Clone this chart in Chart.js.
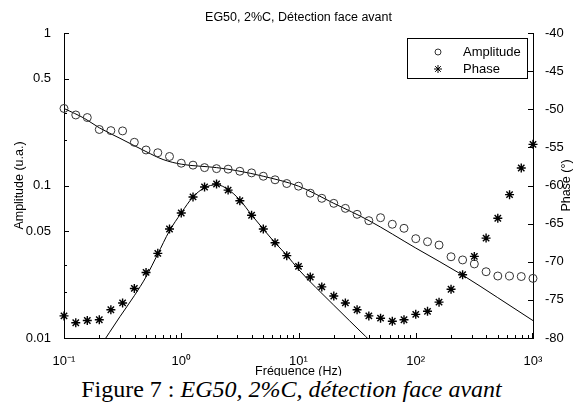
<!DOCTYPE html>
<html>
<head>
<meta charset="utf-8">
<script src="https://cdn.jsdelivr.net/npm/chart.js@4/dist/chart.umd.min.js"></script>
<style>
  body { margin: 0; background: #fff; }
  #wrap { position: relative; width: 583px; height: 412px; }
  #caption {
    position: absolute; left: 0; top: 376px; width: 583px;
    text-align: center; font: 24px "Liberation Serif", "Times New Roman", serif;
    line-height: 26px; background: #fff; color: #000;
  }
</style>
</head>
<body>
<div id="wrap">
  <canvas id="myChart" width="583" height="412"></canvas>
  <div id="caption">Figure 7 : <i>EG50, 2%C, détection face avant</i></div>
</div>
<script>
/*=============== DATA ===============*/

// frequencies of the measured points (Hz)
const freq = [0.1, 0.126, 0.158, 0.2, 0.251, 0.316, 0.398, 0.501, 0.631, 0.794,
  1, 1.26, 1.58, 2, 2.51, 3.16, 3.98, 5.01, 6.31, 7.94,
  10, 12.6, 15.8, 20, 25.1, 31.6, 39.8, 50.1, 63.1, 79.4,
  100, 126, 158, 200, 251, 316, 398, 501, 631, 794, 1000];

// measured amplitude (u.a.)
const amplitude = [0.32, 0.29, 0.279, 0.233, 0.229, 0.228, 0.192, 0.171, 0.164, 0.155,
  0.14, 0.136, 0.131, 0.129, 0.128, 0.124, 0.121, 0.115, 0.109, 0.103,
  0.099, 0.089, 0.0824, 0.0764, 0.0708, 0.0647, 0.0588, 0.0615, 0.0557, 0.0524,
  0.0448, 0.0428, 0.0407, 0.0341, 0.0325, 0.0306, 0.0272, 0.0255, 0.0255, 0.0253, 0.0246];

// measured phase (deg)
const phase = [-77.1, -78.0, -77.7, -77.6, -76.3, -75.4, -73.5, -71.4, -68.9, -65.7,
  -63.6, -61.5, -60.2, -59.8, -60.6, -62.0, -63.9, -65.7, -67.5, -69.2,
  -70.6, -72.0, -73.3, -74.5, -75.4, -76.3, -77.1, -77.4, -77.8, -77.6,
  -76.9, -76.5, -75.3, -73.6, -71.7, -69.3, -66.9, -64.3, -61.2, -57.7, -54.6];

// model curves
const ampFitFreq = [0.1, 0.15, 0.2, 0.3, 0.5, 0.7, 1, 2, 3, 5, 10, 20, 40, 100, 250, 500, 1000];
const ampFit = [0.32, 0.275, 0.239, 0.204, 0.167, 0.148, 0.138, 0.131, 0.125, 0.115,
  0.099, 0.0764, 0.0588, 0.0389, 0.0259, 0.0184, 0.013];

const phaseFitFreq = [0.2, 0.3, 0.4, 0.5, 0.63, 0.79, 1, 1.26, 1.58, 2, 2.5, 3.16, 4, 5, 6.3, 8, 10, 20, 37.4, 50];
const phaseFit = [-81.3, -77.2, -74.4, -72.0, -69.0, -66.0, -63.6, -61.5, -60.3, -59.9,
  -60.5, -61.9, -63.9, -65.7, -67.5, -69.2, -71.0, -75.7, -79.8, -81.7];

// axes
const xTicks = [0.1, 1, 10, 100, 1000];
const xTickLabels = ["10\u207B\u00B9", "10\u2070", "10\u00B9", "10\u00B2", "10\u00B3"];
const yTicks = [0.01, 0.05, 0.1, 0.5, 1];
const yTickLabels = ["0.01", "0.05", "0.1", "0.5", "1"];
const yMinorTicks = [0.02, 0.03, 0.2, 0.3];

const FONT = '"Liberation Sans", Arial, sans-serif';
Chart.defaults.font.family = FONT;
Chart.defaults.color = "#000";

const pts = (xs, ys) => xs.map((x, i) => ({ x: x, y: ys[i] }));

// MATLAB look: inward ticks, boxed legend, titles
const decor = {
  id: "decor",
  afterDraw(chart) {
    const ctx = chart.ctx;
    const a = chart.chartArea;
    const sx = chart.scales.x, sy = chart.scales.y, sp = chart.scales.y1;
    ctx.save();
    ctx.strokeStyle = "#000";
    ctx.lineWidth = 1;
    ctx.beginPath();
    // x ticks (major + log minor)
    for (let d = -1; d <= 2; d++) {
      for (let m = 1; m <= 9; m++) {
        const px = Math.round(sx.getPixelForValue(m * Math.pow(10, d))) + 0.5;
        const len = m === 1 ? 5 : 3;
        ctx.moveTo(px, a.bottom);
        ctx.lineTo(px, a.bottom - len);
      }
    }
    const pEnd = Math.round(sx.getPixelForValue(1000)) - 0.5;
    ctx.moveTo(pEnd, a.bottom);
    ctx.lineTo(pEnd, a.bottom - 5);
    // left ticks
    yTicks.forEach(v => {
      const py = Math.round(sy.getPixelForValue(v)) + 0.5;
      ctx.moveTo(a.left, py);
      ctx.lineTo(a.left + 5, py);
    });
    yMinorTicks.forEach(v => {
      const py = Math.round(sy.getPixelForValue(v)) + 0.5;
      ctx.moveTo(a.left, py);
      ctx.lineTo(a.left + 3, py);
    });
    // right ticks
    for (let v = -80; v <= -40; v += 5) {
      const py = Math.round(sp.getPixelForValue(v)) + 0.5;
      ctx.moveTo(a.right, py);
      ctx.lineTo(a.right - 5, py);
    }
    ctx.stroke();

    // title
    ctx.fillStyle = "#000";
    ctx.font = "12.5px " + FONT;
    ctx.textAlign = "center";
    ctx.textBaseline = "middle";
    ctx.fillText("EG50, 2%C, Détection face avant", (a.left + a.right) / 2, 18);

    // axis titles
    ctx.fillText("Fréquence (Hz)", (a.left + a.right) / 2, 372);
    ctx.save();
    ctx.translate(20, (a.top + a.bottom) / 2);
    ctx.rotate(-Math.PI / 2);
    ctx.fillText("Amplitude (u.a.)", 0, 0);
    ctx.restore();
    ctx.save();
    ctx.translate(567, (a.top + a.bottom) / 2);
    ctx.rotate(-Math.PI / 2);
    ctx.fillText("Phase (°)", 0, 0);
    ctx.restore();

    // legend
    ctx.fillStyle = "#fff";
    ctx.fillRect(407.5, 38.5, 120, 40);
    ctx.strokeRect(407.5, 38.5, 120, 40);
    ctx.beginPath();
    ctx.strokeStyle = "#333";
    ctx.arc(438, 52, 3, 0, Math.PI * 2);
    ctx.stroke();
    ctx.strokeStyle = "#000";
    ctx.beginPath();
    const r = 4;
    for (let k = 0; k < 4; k++) {
      const t = k * Math.PI / 4;
      ctx.moveTo(438 - r * Math.cos(t), 69 - r * Math.sin(t));
      ctx.lineTo(438 + r * Math.cos(t), 69 + r * Math.sin(t));
    }
    ctx.stroke();
    ctx.fillStyle = "#000";
    ctx.font = "13px " + FONT;
    ctx.textAlign = "left";
    ctx.fillText("Amplitude", 463, 52);
    ctx.fillText("Phase", 463, 69);
    ctx.restore();
  }
};

const ctx = document.getElementById("myChart").getContext("2d");
const myChart = new Chart(ctx, {
  type: "line",
  data: {
    datasets: [
      {
        label: "Amplitude",
        data: pts(freq, amplitude),
        yAxisID: "y",
        showLine: false,
        pointStyle: "circle",
        pointRadius: 4,
        borderColor: "#333",
        backgroundColor: "rgba(0,0,0,0)",
        borderWidth: 1,
        clip: false,
      },
      {
        label: "Amplitude fit",
        data: pts(ampFitFreq, ampFit),
        yAxisID: "y",
        pointRadius: 0,
        borderColor: "#000",
        borderWidth: 1,
        cubicInterpolationMode: "monotone",
      },
      {
        label: "Phase",
        data: pts(freq, phase),
        yAxisID: "y1",
        showLine: false,
        pointStyle: "star",
        pointRadius: 4.5,
        borderColor: "#000",
        borderWidth: 1.4,
        clip: false,
      },
      {
        label: "Phase fit",
        data: pts(phaseFitFreq, phaseFit),
        yAxisID: "y1",
        pointRadius: 0,
        borderColor: "#000",
        borderWidth: 1,
        cubicInterpolationMode: "monotone",
      },
    ],
  },
  options: {
    responsive: false,
    animation: false,
    layout: { padding: { top: 33, left: 0, right: 0, bottom: 0 } },
    plugins: {
      legend: { display: false },
      tooltip: { enabled: false },
      title: { display: false },
    },
    scales: {
      x: {
        type: "logarithmic",
        position: "bottom",
        min: 0.1,
        max: 1000,
        grid: { display: false },
        border: { display: true, color: "#000", width: 1 },
        ticks: {
          font: { size: 13 },
          padding: 8,
          maxRotation: 0,
          autoSkip: false,
          callback: (v, i) => xTickLabels[i],
        },
        afterBuildTicks: s => { s.ticks = xTicks.map(v => ({ value: v })); },
        afterFit: s => { s.height = 74; },
      },
      y: {
        type: "logarithmic",
        position: "left",
        min: 0.01,
        max: 1,
        grid: { display: false },
        border: { display: true, color: "#000", width: 1 },
        ticks: {
          font: { size: 13 },
          padding: 5,
          autoSkip: false,
          callback: (v, i) => yTickLabels[i],
        },
        afterBuildTicks: s => { s.ticks = yTicks.map(v => ({ value: v })); },
        afterFit: s => { s.width = 64; },
      },
      y1: {
        type: "linear",
        position: "right",
        min: -80,
        max: -40,
        grid: { display: false },
        border: { display: true, color: "#000", width: 1 },
        ticks: { font: { size: 13 }, padding: 4, stepSize: 5 },
        afterFit: s => { s.width = 50; },
      },
    },
  },
  plugins: [decor],
});
</script>
</body>
</html>
